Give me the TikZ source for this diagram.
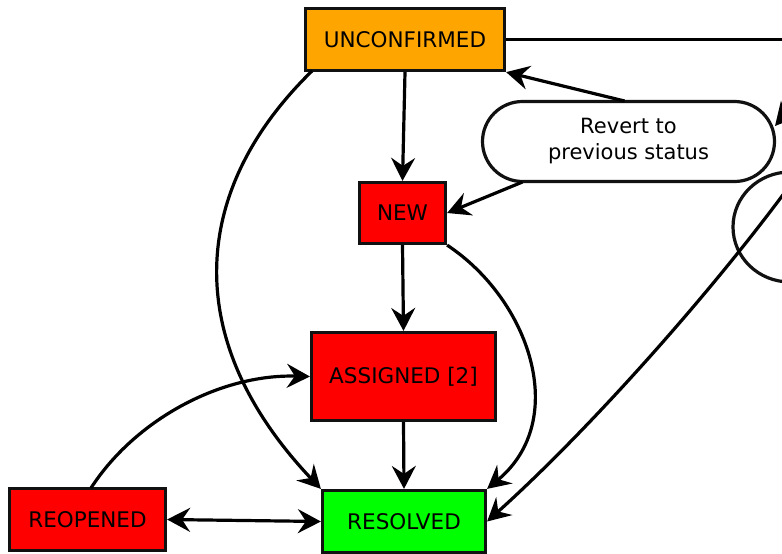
\documentclass[tikz,border=0pt]{standalone}
\usepackage{fontspec}
\setmainfont{DejaVu Sans}
\usetikzlibrary{arrows.meta,shapes.geometric}
\definecolor{unconf}{HTML}{FFA500}
\definecolor{redst}{HTML}{FF0000}
\definecolor{greenst}{HTML}{00FF00}
\definecolor{ink}{HTML}{111111}
\begin{document}
\begin{tikzpicture}[x=1pt,y=-1pt,
  box/.style={draw=ink, line width=3.2pt, inner sep=0pt, font=\fontsize{21.5}{26}\selectfont},
  tip/.tip={Stealth[length=23pt,width=24pt,inset=8pt]},
  conn/.style={draw=black, line width=3.2pt, -tip},
  biconn/.style={draw=black, line width=3.2pt, tip-tip},
  plain/.style={draw=black, line width=3.2pt}
]
\useasboundingbox (0,0) rectangle (782,554);
\clip (0,0) rectangle (782,554);
\node[box, fill=unconf, minimum width=199pt, minimum height=62pt] (unc) at (405,39.5) {UNCONFIRMED};
\node[box, fill=redst, minimum width=86pt, minimum height=61pt] (new) at (402.5,213) {NEW};
\node[box, fill=redst, minimum width=184pt, minimum height=88pt] (asg) at (403.5,376.5) {ASSIGNED [2]};
\node[box, fill=redst, minimum width=156pt, minimum height=62pt] (reo) at (87.5,519.5) {REOPENED};
\node[box, fill=greenst, minimum width=163pt, minimum height=62pt] (res) at (404,521.5) {RESOLVED};
\node[box, fill=white, rounded corners=40pt, minimum width=292pt, minimum height=80pt, align=center, font=\fontsize{21}{26}\selectfont] (rev) at (628.5,141.5) {Revert to\\previous status};
\node[draw=ink, line width=3.2pt, ellipse, minimum width=114pt, minimum height=110pt, inner sep=0pt] (ell) at (790,227) {};
\coordinate (offA) at (830,39.5);
\coordinate (offB) at (808,88);
\coordinate (revE) at (775,126);
\coordinate (offC) at (815,150);
\coordinate (revS) at (522.5,182);
\coordinate (revN) at (624.5,101);
\coordinate (uncSW) at (312,71);
\coordinate (reoN) at (91,488);

\draw[conn] (unc.south) -- (new.north);
\draw[conn] (uncSW) .. controls (190,190) and (180,340) .. (res.north west);
\draw[conn] (revN) -- (unc.south east);
\draw[conn] (revS) -- (new.east);
\draw[conn] (new.south) -- (asg.north);
\draw[conn] (new.south east) .. controls (530,300) and (570,420) .. (res.north east);
\draw[conn] (asg.south) -- (res.north);
\draw[conn] (reoN) .. controls (135,420) and (220,374) .. (asg.west);
\draw[biconn] (reo.east) -- (res.west);
\draw[plain] (unc.east) -- (offA);
\draw[conn] (offB) -- (revE);
\draw[conn] (offC) .. controls (740,260) and (600,420) .. (res.east);
\end{tikzpicture}
\end{document}
